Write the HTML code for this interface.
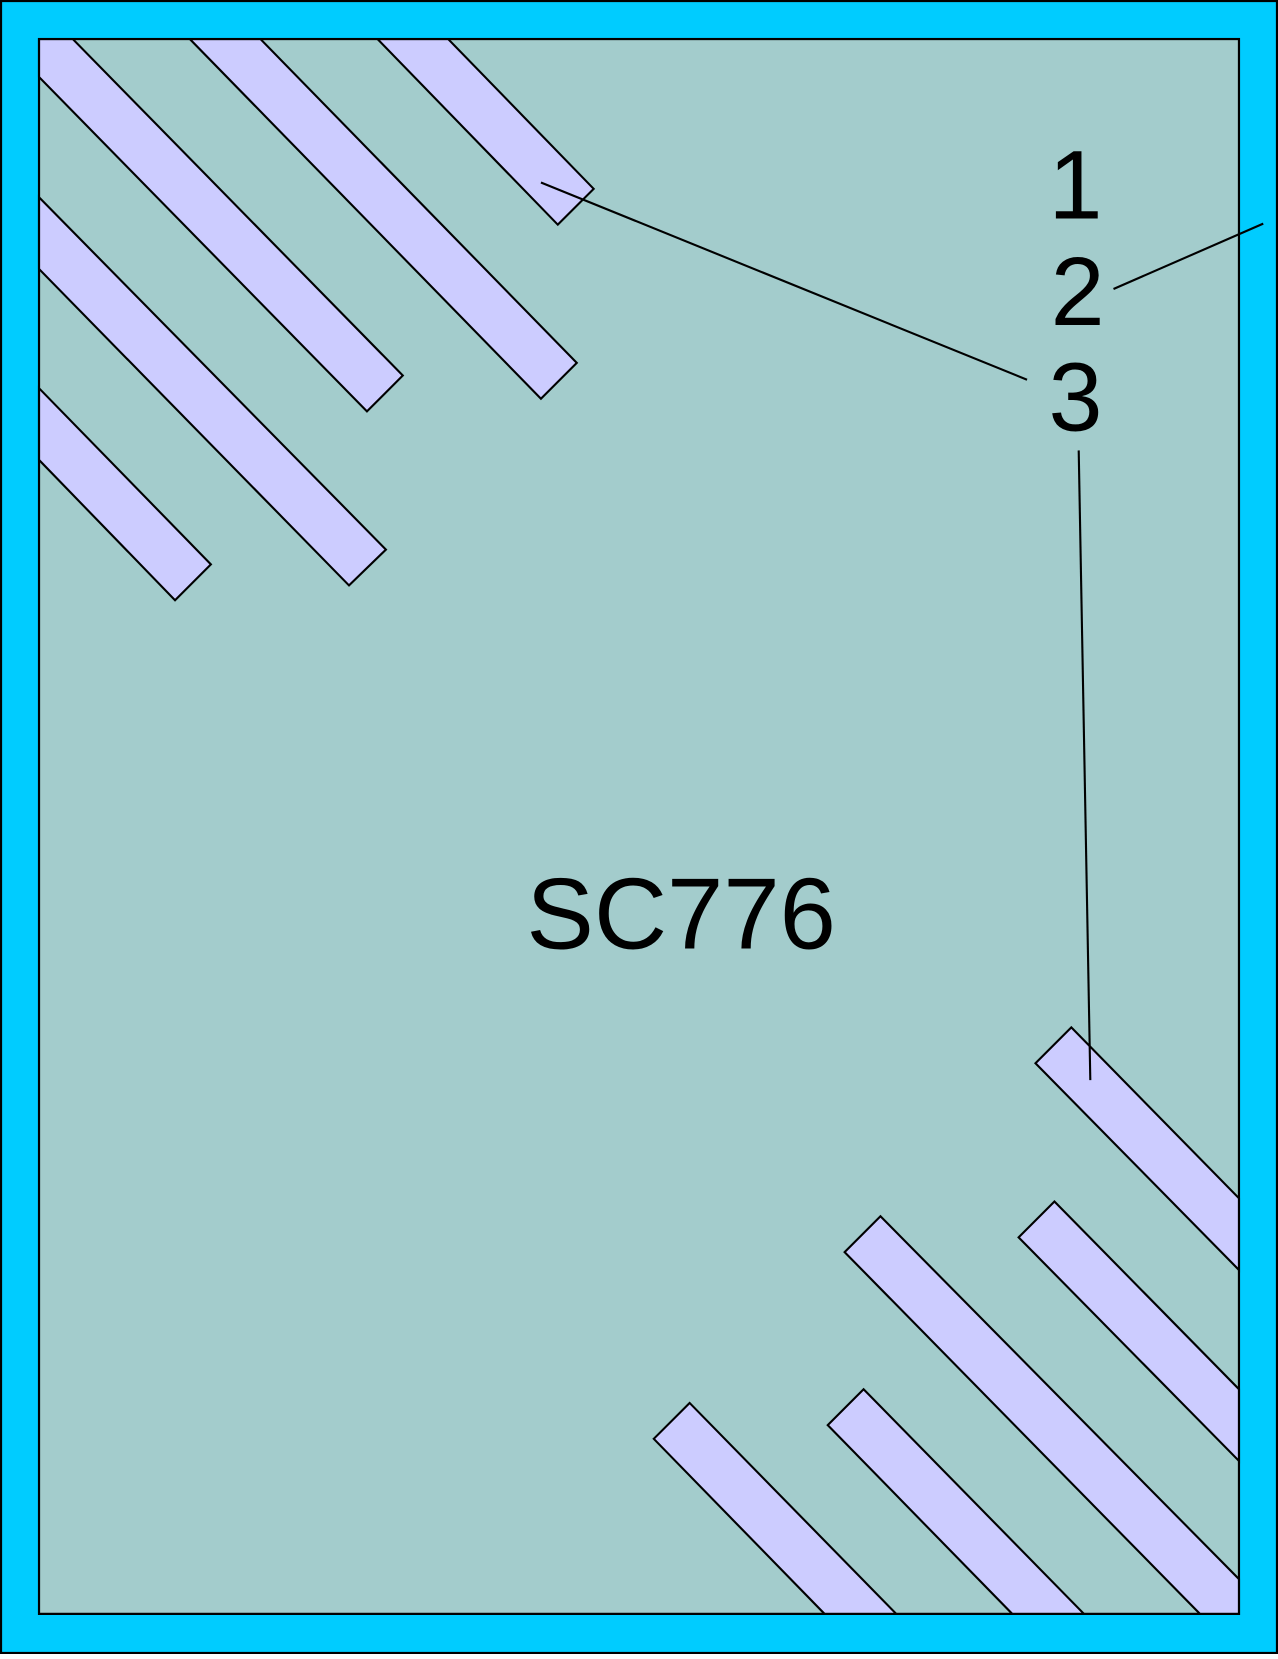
<!DOCTYPE html>
<html><head><style>html,body{margin:0;padding:0;background:#fff}</style></head>
<body>
<svg width="1278" height="1654" viewBox="0 0 1212 1568" preserveAspectRatio="none" xmlns="http://www.w3.org/2000/svg">
<rect x="1" y="1" width="1210" height="1566" fill="#00ccff" stroke="#000" stroke-width="2"/>
<rect x="37" y="37" width="1138" height="1493" fill="#a3cccc" stroke="#000" stroke-width="2"/>
<g fill="#ccccff" stroke="#000" stroke-width="2" stroke-linejoin="miter">
<polygon points="37,37 69,37 382,356 348,390 37,73"/>
<polygon points="180,37 247,37 547,344 513,378"/>
<polygon points="358,37 425,37 563,179 529,213"/>
<polygon points="37,187 366,521 331,555 37,255"/>
<polygon points="37,368 200,535 166,569 37,436"/>
<polygon points="982,1008 1016,974 1175,1136 1175,1204"/>
<polygon points="966,1173 1000,1139 1175,1317 1175,1385"/>
<polygon points="801,1187 835,1153 1175,1497 1175,1530 1138,1530"/>
<polygon points="785,1351 819,1317 1028,1530 960,1530"/>
<polygon points="620,1364 654,1330 850,1530 782,1530"/>
</g>
<rect x="37" y="37" width="1138" height="1493" fill="none" stroke="#000" stroke-width="2"/>
<g stroke="#000" stroke-width="2">
<line x1="513" y1="173" x2="974" y2="360"/>
<line x1="1056" y1="274" x2="1198" y2="212"/>
<line x1="1023" y1="427" x2="1034" y2="1024"/>
</g>
<g font-family="Liberation Sans, sans-serif" font-size="92" fill="#000" text-anchor="middle">
<text x="1020" y="207">1</text>
<text x="1022" y="308">2</text>
<text x="1020" y="408">3</text>
<text x="646" y="899" font-size="96">SC776</text>
</g>
</svg>
</body></html>
